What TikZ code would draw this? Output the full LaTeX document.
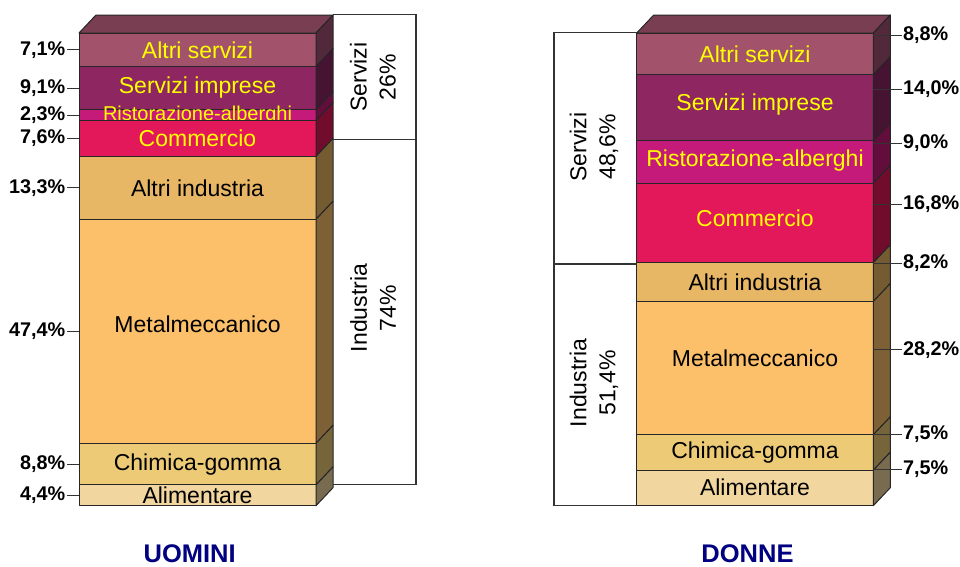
\documentclass[tikz,border=0pt]{standalone}
\usepackage{fontspec}
\setmainfont{Liberation Sans}
\usetikzlibrary{positioning}

\definecolor{asTop}{RGB}{122,62,83}
\definecolor{asFront}{RGB}{163,82,108}
\definecolor{asSide}{RGB}{82,41,58}
\definecolor{siFront}{RGB}{142,38,98}
\definecolor{siSide}{RGB}{71,19,50}
\definecolor{raFront}{RGB}{198,26,122}
\definecolor{raSide}{RGB}{99,13,61}
\definecolor{coFront}{RGB}{227,24,91}
\definecolor{coSide}{RGB}{113,12,45}
\definecolor{aiFront}{RGB}{232,183,101}
\definecolor{aiSide}{RGB}{116,91,50}
\definecolor{meFront}{RGB}{252,192,107}
\definecolor{meSide}{RGB}{126,96,54}
\definecolor{cgFront}{RGB}{237,202,117}
\definecolor{cgSide}{RGB}{118,101,58}
\definecolor{alFront}{RGB}{242,214,160}
\definecolor{alSide}{RGB}{121,107,80}
\definecolor{labyellow}{RGB}{255,255,0}
\definecolor{titleblue}{RGB}{0,0,128}
\definecolor{linegray}{RGB}{51,51,51}

\tikzset{
  segline/.style={draw=black!85, line width=1pt, line join=round},
  seglabel/.style={inner sep=0pt, font=\fontsize{23}{27}\selectfont},
  seglabelsmall/.style={inner sep=0pt, font=\fontsize{20}{24}\selectfont},
  pctlabel/.style={inner sep=1.5pt, font=\fontsize{19.8}{23}\selectfont\bfseries},
  tickline/.style={draw=linegray, line width=1pt},
  bracket/.style={draw=linegray, line width=1.2pt},
  grouplabel/.style={rotate=90, align=center, inner sep=0pt, font=\fontsize{23}{29}\selectfont},
  titlelabel/.style={anchor=base, inner sep=0pt, text=titleblue, font=\fontsize{25.5}{30}\selectfont\bfseries}
}

\begin{document}
\begin{tikzpicture}[x=1pt, y=-1pt]
\useasboundingbox (0,0) rectangle (960,566);

% UOMINI bar
\filldraw[segline, fill=asTop] (79,33) -- (96,15) -- (333,15) -- (316,33) -- cycle;
\foreach \ya/\yb/\c/\txt/\tc/\st/\dy/\pct [count=\i] in {
  {33/66.6/as/Altri servizi/labyellow/seglabel/0/7,1\%},
  {66.6/109.6/si/Servizi imprese/labyellow/seglabel/-1/9,1\%},
  {109.6/120.5/ra/Ristorazione-alberghi/labyellow/seglabelsmall/0/2,3\%},
  {120.5/156.4/co/Commercio/labyellow/seglabel/0/7,6\%},
  {156.4/219.3/ai/Altri industria/black/seglabel/0/13,3\%},
  {219.3/443.3/me/Metalmeccanico/black/seglabel/-7/47,4\%},
  {443.3/484.9/cg/Chimica-gomma/black/seglabel/0/8,8\%},
  {484.9/505.7/al/Alimentare/black/seglabel/0/4,4\%}} {
  \pgfmathsetmacro\ym{(\ya+\yb)/2}
  \filldraw[segline, fill=\c Front] (79,\ya) rectangle (316,\yb);
  \filldraw[segline, fill=\c Side] (316,\ya) -- (333,\ya-18) -- (333,\yb-18) -- (316,\yb) -- cycle;
  \node[\st, text=\tc] (uSeg\i) at (197.5,\ym+\dy) {\txt};
  \node[pctlabel, anchor=east] (uPct\i) at (67,\ym) {\pct};
  \draw[tickline] (uPct\i.east) -- (79,\ym);
}

% DONNE bar
\filldraw[segline, fill=asTop] (636.7,33) -- (653.7,15) -- (890.3,15) -- (873.3,33) -- cycle;
\foreach \ya/\yb/\c/\txt/\tc/\dy [count=\i] in {
  {33/74.6/as/Altri servizi/labyellow/0},
  {74.6/140.8/si/Servizi imprese/labyellow/-3},
  {140.8/183.3/ra/Ristorazione-alberghi/labyellow/-2},
  {183.3/262.7/co/Commercio/labyellow/-5},
  {262.7/301.5/ai/Altri industria/black/0},
  {301.5/434.8/me/Metalmeccanico/black/-10},
  {434.8/470.2/cg/Chimica-gomma/black/0},
  {470.2/505.7/al/Alimentare/black/-1}} {
  \pgfmathsetmacro\ym{(\ya+\yb)/2}
  \filldraw[segline, fill=\c Front] (636.7,\ya) rectangle (873.3,\yb);
  \filldraw[segline, fill=\c Side] (873.3,\ya) -- (890.3,\ya-18) -- (890.3,\yb-18) -- (873.3,\yb) -- cycle;
  \node[seglabel, text=\tc] (dSeg\i) at (755,\ym+\dy) {\txt};
}
\foreach \ya/\yb/\pct [count=\i] in {
  {33/74.6/8,8\%}, {74.6/140.8/14,0\%}, {140.8/183.3/9,0\%}, {183.3/262.7/16,8\%},
  {262.7/301.5/8,2\%}, {301.5/434.8/28,2\%}, {434.8/470.2/7,5\%}, {470.2/505.7/7,5\%}} {
  \pgfmathsetmacro\ym{(\ya+\yb)/2-18.5}
  \node[pctlabel, anchor=west] (dPct\i) at (901.5,\ym) {\pct};
  \draw[tickline] (873.3,\ym) -- (dPct\i.west);
}

% group boxes
\draw[bracket] (333,14.5) -- (416,14.5) -- (416,484.3) -- (333,484.3);
\draw[bracket] (333,139.5) -- (416,139.5);
\node[grouplabel] (uServ) at (373,77) {Servizi\\26\%};
\node[grouplabel] (uInd) at (373,308) {Industria\\74\%};

\draw[bracket] (636.7,32.7) -- (554,32.7) -- (554,505.7) -- (636.7,505.7);
\draw[bracket] (554,264) -- (636.7,264);
\node[grouplabel] (dServ) at (594,147) {Servizi\\48,6\%};
\node[grouplabel] (dInd) at (594,383) {Industria\\51,4\%};

% titles
\node[titlelabel] (uTitle) at (189.7,562) {UOMINI};
\node[titlelabel] (dTitle) at (747.5,562) {DONNE};
\end{tikzpicture}
\end{document}
